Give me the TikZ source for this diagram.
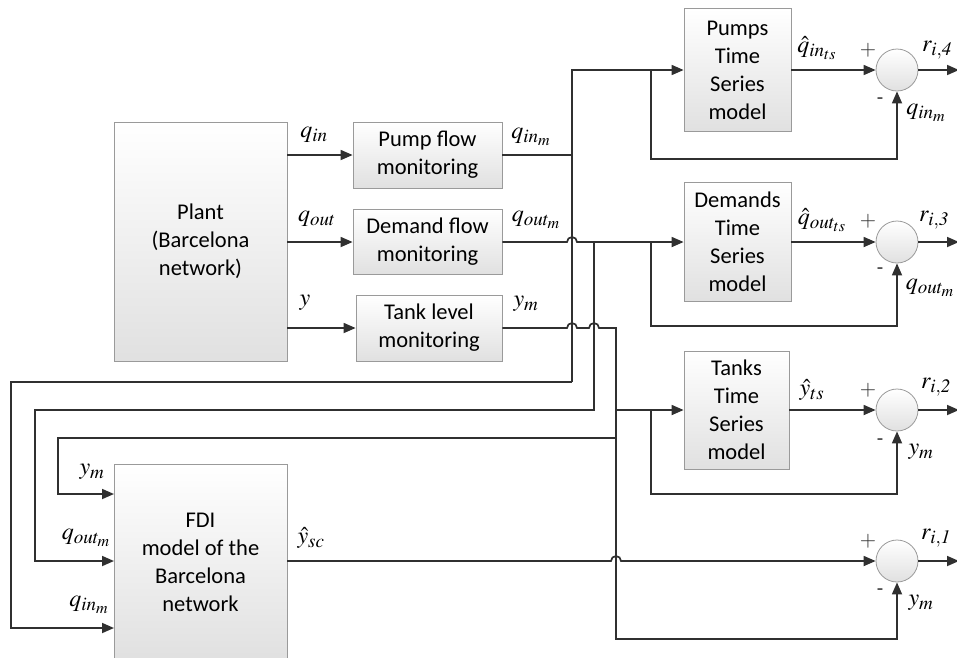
\documentclass[tikz,border=0pt]{standalone}
\usepackage{mathptmx}
\usepackage[no-math]{fontspec}
\setmainfont{Carlito}
\usetikzlibrary{arrows.meta}
\DeclareMathSizes{24}{24}{19}{16}
\definecolor{ln}{HTML}{303030}
\definecolor{bd}{HTML}{9A9A9A}
\begin{document}
\begin{tikzpicture}[x=1pt,y=-1pt,
  wire/.style={draw=ln, line width=1.7pt},
  arr/.style={wire, -{Triangle[length=12pt,width=10pt]}},
  blk/.style={draw=bd, line width=0.8pt, top color=white, bottom color=black!12, align=center, font=\fontsize{22.5}{28}\selectfont, inner sep=0pt},
  sumc/.style={circle, draw=bd, line width=0.8pt, top color=white, bottom color=black!12, minimum size=42pt, inner sep=0pt},
  lab/.style={font=\fontsize{24}{28}\selectfont, inner sep=0pt},
  sgn/.style={font=\fontsize{21}{24}\selectfont, inner sep=0pt, text=ln}]
\useasboundingbox (0,0) rectangle (957,657);
% blocks
\node[blk, minimum width=173pt, minimum height=239pt] (plant) at (200.5,241.5) {Plant\\(Barcelona\\network)};
\node[blk, minimum width=149pt, minimum height=66pt] (pump) at (427.5,155) {Pump flow\\monitoring};
\node[blk, minimum width=149pt, minimum height=65pt] (dem) at (427.5,242) {Demand flow\\monitoring};
\node[blk, minimum width=146pt, minimum height=66pt] (tank) at (429,328) {Tank level\\monitoring};
\node[blk, minimum width=107pt, minimum height=123pt] (pts) at (737.5,70) {Pumps\\Time\\Series\\model};
\node[blk, minimum width=107pt, minimum height=119pt] (dts) at (737.5,242) {Demands\\Time\\Series\\model};
\node[blk, minimum width=105pt, minimum height=118pt] (tts) at (736.5,410) {Tanks\\Time\\Series\\model};
\node[blk, minimum width=173pt, minimum height=196pt] (fdi) at (200.5,562) {FDI\\model of the\\Barcelona\\network};
% sums
\node[sumc] (s4) at (897,70) {};
\node[sumc] (s3) at (897,242) {};
\node[sumc] (s2) at (897,410) {};
\node[sumc] (s1) at (897,561) {};
% coordinates
\coordinate (a0) at (572,70);
\coordinate (a1) at (572,155);
\coordinate (a2) at (572,382);
\coordinate (a3) at (11,382);
\coordinate (a4) at (11,628);
\coordinate (a5) at (114,628);
\coordinate (b4) at (651,70);
\coordinate (c0) at (567,242);
\coordinate (c1) at (594,242);
\coordinate (c2) at (594,410);
\coordinate (c3) at (35,410);
\coordinate (c4) at (35,561);
\coordinate (c5) at (114,561);
\coordinate (b3) at (651,242);
\coordinate (d0) at (567,328);
\coordinate (d1) at (589,328);
\coordinate (d2) at (616,328);
\coordinate (d3) at (616,639);
\coordinate (d4) at (616,410);
\coordinate (b2) at (651,410);
\coordinate (d5) at (616,438);
\coordinate (d6) at (58,438);
\coordinate (d7) at (58,494);
\coordinate (d8) at (114,494);
\coordinate (e0) at (287,561);
\coordinate (e1) at (611,561);
\coordinate (o4) at (959,70);
\coordinate (o3) at (959,242);
\coordinate (o2) at (959,410);
\coordinate (o1) at (959,561);
% plant to monitors
\draw[arr] (plant.east |- pump.west) -- (pump.west);
\draw[arr] (plant.east |- dem.west) -- (dem.west);
\draw[arr] (plant.east |- tank.west) -- (tank.west);
% q_in_m
\draw[wire] (pump.east) -- (a1);
\draw[arr] (a2) -- (a0) -- (pts.west);
\draw[arr] (b4) -- ++(0,89) -| (s4.south);
\draw[arr] (a2) -- (a3) -- (a4) -- (a5);
% q_out_m
\draw[arr] (dem.east) -- (c0) arc[start angle=180,end angle=0,radius=5pt] -- (dts.west);
\draw[arr] (c1) -- (c2) -- (c3) -- (c4) -- (c5);
\draw[arr] (b3) -- ++(0,84) -| (s3.south);
% y_m
\draw[arr] (tank.east) -- (d0) arc[start angle=180,end angle=0,radius=5pt] -- (d1) arc[start angle=180,end angle=0,radius=5pt] -- (d2) -- (d3) -| (s1.south);
\draw[arr] (d4) -- (tts.west);
\draw[arr] (b2) -- ++(0,84) -| (s2.south);
\draw[arr] (d5) -- (d6) -- (d7) -- (d8);
% y_sc
\draw[arr] (e0) -- (e1) arc[start angle=180,end angle=0,radius=5pt] -- (s1.west);
% TS to sums
\draw[arr] (pts.east) -- (s4.west);
\draw[arr] (dts.east) -- (s3.west);
\draw[arr] (tts.east) -- (s2.west);
% outputs
\draw[arr] (s4.east) -- (o4);
\draw[arr] (s3.east) -- (o3);
\draw[arr] (s2.east) -- (o2);
\draw[arr] (s1.east) -- (o1);
% labels
\node[lab] (lqin) at (314,135) {$q_{in}$};
\node[lab] (lqout) at (317,219) {$q_{out}$};
\node[lab] (ly) at (305,303) {$y$};
\node[lab] (lqinm) at (531,137) {$q_{in_m}$};
\node[lab] (lqoutm) at (536,220) {$q_{out_m}$};
\node[lab] (lym) at (526,304) {$y_m$};
\node[lab] (lqints) at (817,48) {$\hat{q}_{in_{ts}}$};
\node[lab] (lqoutts) at (822,220) {$\hat{q}_{out_{ts}}$};
\node[lab] (lyts) at (812,390) {$\hat{y}_{ts}$};
\node[lab] (lysc) at (311,538) {$\hat{y}_{sc}$};
\node[lab] (lr4) at (937,50) {$r_{\mathit{i,4}}$};
\node[lab] (lr3) at (934,220) {$r_{\mathit{i,3}}$};
\node[lab] (lr2) at (936,387) {$r_{\mathit{i,2}}$};
\node[lab] (lr1) at (936,538) {$r_{\mathit{i,1}}$};
\node[lab] (lm4) at (926,113) {$q_{in_m}$};
\node[lab] (lm3) at (930,288) {$q_{out_m}$};
\node[lab] (lm2) at (921,452) {$y_m$};
\node[lab] (lm1) at (921,603) {$y_m$};
\node[lab] (lfy) at (92,472) {$y_m$};
\node[lab] (lfqo) at (86,538) {$q_{out_m}$};
\node[lab] (lfqi) at (89,605) {$q_{in_m}$};
% signs
\node[sgn] (p4) at (868,50) {$+$};
\node[sgn] (p3) at (868,221) {$+$};
\node[sgn] (p2) at (868,390) {$+$};
\node[sgn] (p1) at (868,541) {$+$};
\node[sgn] (n4) at (880,101) {-};
\node[sgn] (n3) at (880,271) {-};
\node[sgn] (n2) at (880,442) {-};
\node[sgn] (n1) at (880,592) {-};
\end{tikzpicture}
\end{document}
